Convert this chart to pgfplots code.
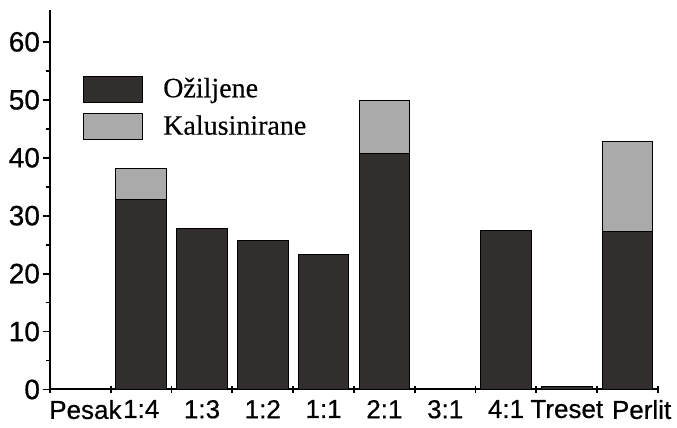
\documentclass[border=0pt]{standalone}
\usepackage{fontspec}
\setmainfont{Liberation Serif}
\newfontfamily\arialf[FakeBold=0.6]{Liberation Sans}
\newfontfamily\timesf[FakeBold=0.4]{Liberation Serif}
\usepackage{pgfplots}
\pgfplotsset{compat=1.18}
\definecolor{darkbar}{RGB}{50,46,46}
\definecolor{graybar}{RGB}{170,170,170}
\begin{document}
\begin{tikzpicture}
\begin{axis}[
  name=ax,
  scale only axis, width=304pt, height=189.75pt,
  xmin=-0.5, xmax=9.5, ymin=0, ymax=65.5,
  axis x line=bottom, axis y line=left,
  axis line style={line width=1pt, -},
  ybar stacked, bar width=0.83,
  xtick={-0.5,0.5,...,9.5},
  x tick label as interval,
  xticklabels={\hspace*{5pt}Pesak,1:4,1:3,1:2,1:1,2:1,3:1,4:1,Treset,\hspace*{14pt}Perlit},
  ytick={0,10,...,60},
  minor ytick={5,15,...,55},
  xtick align=center, ytick align=outside,
  tick style={line width=0.9pt, black},
  major tick length=3.5pt, minor tick length=2.2pt,
  ticklabel style={font=\arialf\fontsize{13}{13}\selectfont},
  yticklabel style={font=\arialf\fontsize{14}{14}\selectfont, xshift=2pt},
  /pgf/number format/assume math mode=true,
  legend image code/.code={\draw[#1] (0pt,-6.5pt) rectangle (29.5pt,6.5pt);},
  legend style={draw=none, fill=none, at={(rel axis cs:0.054,0.833)}, anchor=north west,
    inner sep=0pt, row sep=3.5pt, column sep=8pt,
    font=\timesf\fontsize{14}{14}\selectfont},
  legend cell align=left,
]
\addplot[fill=darkbar, draw=black, line width=0.5pt] coordinates {
  (0,0) (1,32.8) (2,27.8) (3,25.7) (4,23.3) (5,40.7) (6,0) (7,27.5) (8,0.5) (9,27.3)};
\addplot[fill=graybar, draw=black, line width=0.5pt] coordinates {
  (0,0) (1,5.3) (2,0) (3,0) (4,0) (5,9.1) (6,0) (7,0) (8,0) (9,15.5)};
\legend{Ožiljene,Kalusinirane}
\end{axis}
\pgfresetboundingbox
\path ([shift={(-25pt,-19.25pt)}]ax.south west) rectangle ([shift={(9.5pt,5pt)}]ax.north east);
\end{tikzpicture}
\end{document}
